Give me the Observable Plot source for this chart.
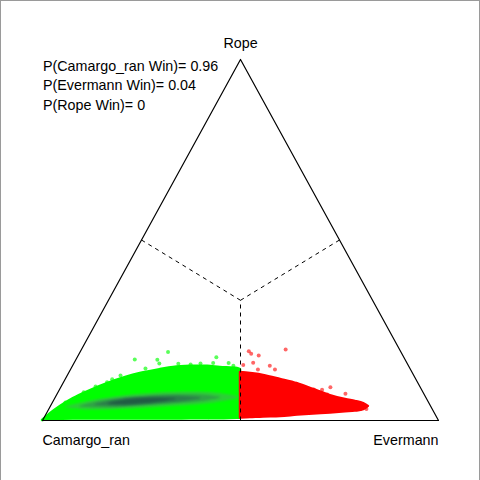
<!DOCTYPE html>
<html>
<head>
<meta charset="utf-8">
<script src="https://cdn.jsdelivr.net/npm/d3@7"></script>
<script src="https://cdn.jsdelivr.net/npm/@observablehq/plot@0.6"></script>
<style>
  html, body { margin: 0; padding: 0; background: #fff; }
  #wrap { position: relative; width: 480px; height: 480px; }
  #wrap svg { display: block; }
  #border { position: absolute; left: 0; top: 0; width: 478px; height: 480px;
            border-left: 1px solid #9a9a9a; border-top: 1px solid #9a9a9a; border-right: 1px solid #9a9a9a;
            pointer-events: none; }
  .dens { filter: blur(1.2px); }
</style>
</head>
<body>
<div id="wrap"><div id="border"></div></div>
<script>
// Simplex coordinates: x = position along base (Camargo_ran=0, Evermann=1), y = P(Rope)
const vertexNames = ["Camargo_ran", "Evermann", "Rope"];
const vertexX = [0, 1, 0.5];
const vertexY = [0, 0, 1];
const winProbs = [0.96, 0.04, 0];

// region boundaries (midpoints of sides to centroid)
const dashX1 = [0.25, 0.75, 0.5];
const dashY1 = [0.5, 0.5, 0];
const centroidX = 0.5;
const centroidY = 0.333;

// green cloud (Camargo_ran wins) outline
const greenX   = [0, 0.020, 0.045, 0.078, 0.121, 0.164, 0.210, 0.247, 0.298, 0.331, 0.374, 0.417, 0.449, 0.492, 0.5];
const greenTop = [0, 0.019, 0.039, 0.061, 0.083, 0.102, 0.119, 0.130, 0.141, 0.147, 0.150, 0.150, 0.147, 0.144, 0.141];
const greenLow = [0, 0.002, 0.003, 0.004, 0.004, 0.004, 0.004, 0.004, 0.004, 0.004, 0.005, 0.005, 0.005, 0.006, 0.006];

// red cloud (Evermann wins) outline
const redX   = [0.5, 0.525, 0.558, 0.601, 0.644, 0.684, 0.727, 0.765, 0.790, 0.811, 0.823];
const redTop = [0.133, 0.130, 0.125, 0.114, 0.102, 0.086, 0.069, 0.058, 0.053, 0.047, 0.039];
const redLow = [0.007, 0.008, 0.010, 0.011, 0.015, 0.018, 0.021, 0.024, 0.026, 0.030, 0.039];

// density shading layers inside the green cloud
const dens1X  = [0.0581, 0.1086, 0.2222, 0.3359, 0.4369, 0.4949];
const dens1Lo = [0.0352, 0.0294, 0.0319, 0.0393, 0.0488, 0.0609];
const dens1Hi = [0.0380, 0.0515, 0.0706, 0.0781, 0.0765, 0.0665];
const dens2X  = [0.0960, 0.1465, 0.2348, 0.3359, 0.4116, 0.4495];
const dens2Lo = [0.0368, 0.0343, 0.0382, 0.0463, 0.0535, 0.0615];
const dens2Hi = [0.0396, 0.0537, 0.0659, 0.0712, 0.0701, 0.0643];
const dens3X  = [0.1338, 0.1843, 0.2601, 0.3359, 0.3990];
const dens3Lo = [0.0413, 0.0393, 0.0443, 0.0504, 0.0598];
const dens3Hi = [0.0440, 0.0560, 0.0637, 0.0670, 0.0626];
const dens4X  = [0.1667, 0.2096, 0.2727, 0.3359];
const dens4Lo = [0.0449, 0.0432, 0.0479, 0.0573];
const dens4Hi = [0.0476, 0.0571, 0.0618, 0.0601];
const densColors = ["#2ccf36", "#2fa345", "#2b7d4a", "#215c44"];

// scattered outlying samples
const greenPtX = [0.233, 0.290, 0.317, 0.295, 0.374, 0.439, 0.431, 0.470, 0.163, 0.176, 0.104, 0.419, 0.197, 0.260, 0.343, 0.399, 0.482, 0.058, 0.134];
const greenPtY = [0.169, 0.168, 0.190, 0.158, 0.155, 0.175, 0.159, 0.159, 0.106, 0.114, 0.078, 0.009, 0.125, 0.144, 0.157, 0.158, 0.152, 0.050, 0.094];
const redPtX = [0.521, 0.527, 0.546, 0.614, 0.532, 0.574, 0.587, 0.544, 0.507, 0.727, 0.765, 0.795, 0.818, 0.803, 0.706, 0.719, 0.641, 0.685];
const redPtY = [0.192, 0.185, 0.180, 0.197, 0.160, 0.152, 0.141, 0.141, 0.154, 0.092, 0.074, 0.048, 0.032, 0.032, 0.085, 0.072, 0.102, 0.086];

const zipArea = (xs, lo, hi) => xs.map((x, i) => ({x, lo: lo[i], hi: hi[i]}));
const zipPts = (xs, ys) => xs.map((x, i) => ({x, y: ys[i]}));

const green = zipArea(greenX, greenLow, greenTop);
const red = zipArea(redX, redLow, redTop);
const layers = [
  zipArea(dens1X, dens1Lo, dens1Hi),
  zipArea(dens2X, dens2Lo, dens2Hi),
  zipArea(dens3X, dens3Lo, dens3Hi),
  zipArea(dens4X, dens4Lo, dens4Hi)
];
const triangle = [0, 1, 2, 0].map(i => ({x: vertexX[i], y: vertexY[i]}));
const dashes = dashX1.map((x, i) => ({x1: x, y1: dashY1[i], x2: centroidX, y2: centroidY}));
const vertices = vertexNames.map((name, i) => ({name, x: vertexX[i], y: vertexY[i]}));
const probLines = vertexNames
  .map((n, i) => `P(${n} Win)= ${winProbs[i] === 0 ? "0" : winProbs[i].toFixed(2)}`)
  .join("\n");

const font = "'Liberation Sans', Arial, Helvetica, sans-serif";
const fs = 14.3;

const chart = Plot.plot({
  width: 480,
  height: 480,
  margin: 0,
  style: {fontFamily: font, background: "#fff"},
  x: {domain: [0, 1], range: [42, 438], axis: null},
  y: {domain: [0, 1], range: [420, 59], axis: null},
  marks: [
    Plot.areaY(green, {x: "x", y1: "lo", y2: "hi", fill: "#00ff00", stroke: "#00ff00", strokeWidth: 2.5, curve: "catmull-rom"}),
    Plot.areaY(red, {x: "x", y1: "lo", y2: "hi", fill: "#ff0000", stroke: "#ff0000", strokeWidth: 2.5, curve: "catmull-rom"}),
    ...layers.map((l, i) => Plot.areaY(l, {x: "x", y1: "lo", y2: "hi", fill: densColors[i], curve: "catmull-rom", className: "dens"})),
    Plot.dot(zipPts(greenPtX, greenPtY), {x: "x", y: "y", r: 2, fill: "#00ff00", fillOpacity: 0.65, stroke: "none"}),
    Plot.dot(zipPts(redPtX, redPtY), {x: "x", y: "y", r: 2, fill: "#ff0000", fillOpacity: 0.6, stroke: "none"}),
    Plot.link(dashes, {x1: "x1", y1: "y1", x2: "x2", y2: "y2", stroke: "#000", strokeWidth: 1, strokeDasharray: "4,4"}),
    Plot.line(triangle, {x: "x", y: "y", stroke: "#000", strokeWidth: 1.2}),
    Plot.text(vertices.filter(d => d.name === "Rope"), {x: "x", y: "y", text: "name", dy: -16.5, lineAnchor: "middle", textAnchor: "middle", fontSize: fs, fill: "#000"}),
    Plot.text(vertices.filter(d => d.name === "Camargo_ran"), {x: "x", y: "y", text: "name", dy: 19.5, lineAnchor: "middle", textAnchor: "start", fontSize: fs, fill: "#000"}),
    Plot.text(vertices.filter(d => d.name === "Evermann"), {x: "x", y: "y", text: "name", dy: 19.5, lineAnchor: "middle", textAnchor: "end", fontSize: fs, fill: "#000"}),
    Plot.text([probLines], {frameAnchor: "top-left", text: d => d, dx: 42.5, dy: 56.5, lineAnchor: "top", textAnchor: "start", lineHeight: 1.36, fontSize: fs, fill: "#000"})
  ]
});
document.getElementById("wrap").prepend(chart);
</script>
</body>
</html>
